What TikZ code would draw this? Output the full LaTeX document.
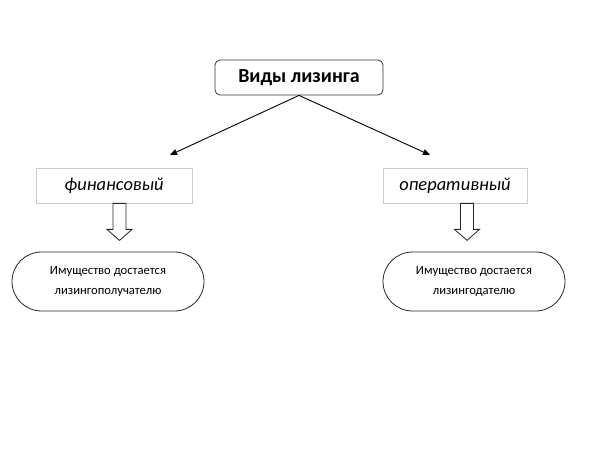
\documentclass[tikz,border=0pt]{standalone}
\usepackage{fontspec}
\setmainfont{Carlito}
\usetikzlibrary{calc,arrows.meta}

\begin{document}
\begin{tikzpicture}[x=1bp,y=-1bp,
  headbox/.style={draw=black!80,line width=0.8bp,rounded corners=5bp,minimum width=168bp,minimum height=35bp,inner sep=0pt,font=\fontsize{20}{24}\selectfont\bfseries},
  kindbox/.style={draw=black!20,line width=0.8bp,minimum height=35bp,inner sep=0pt,font=\fontsize{18.5}{22}\selectfont\itshape},
  pill/.style={draw=black!85,line width=0.8bp,rounded corners=29.5bp,minimum height=59bp,inner sep=0pt,align=center,font=\fontsize{12.7}{20}\selectfont},
  link/.style={line width=0.9bp,-{Triangle[length=7bp,width=6bp]}},
  hollow/.style={draw=black!85,line width=0.8bp,fill=white}]
\useasboundingbox (0,0) rectangle (612,468);
% top
\node[headbox] (kinds) at (299,77.5) {Виды лизинга};
% two kinds
\node[kindbox,minimum width=156bp] (fin) at (114,185.5) {финансовый};
\node[kindbox,minimum width=144bp] (oper) at (455,185.5) {оперативный};
\coordinate (finend) at (170,155);
\coordinate (operend) at (430,155);
\draw[link] (kinds.south) -- (finend);
\draw[link] (kinds.south) -- (operend);
% results
\node[pill,minimum width=192bp] (finres) at (108,281.5) {Имущество достается\\лизингополучателю};
\node[pill,minimum width=182bp] (operres) at (474,281.5) {Имущество достается\\лизингодателю};
% hollow arrows
\coordinate (fa) at (fin.south -| 119.5,0);
\coordinate (oa) at (oper.south -| 467,0);
\draw[hollow] ($(fa)+(-6.5,0)$) -- ++(0,26) -- ++(-6,0) -- ($(fa)+(0,37)$)
  -- ($(fa)+(12.5,26)$) -- ++(-6,0) -- ($(fa)+(6.5,0)$) -- cycle;
\draw[hollow] ($(oa)+(-6.5,0)$) -- ++(0,26) -- ++(-6,0) -- ($(oa)+(0,37)$)
  -- ($(oa)+(12.5,26)$) -- ++(-6,0) -- ($(oa)+(6.5,0)$) -- cycle;
\end{tikzpicture}
\end{document}
